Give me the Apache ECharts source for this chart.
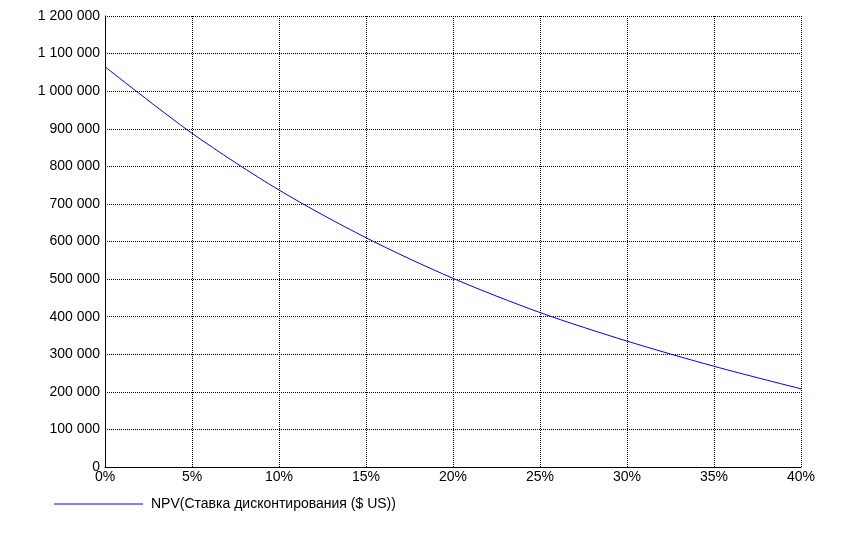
<!DOCTYPE html>
<html><head><meta charset="utf-8">
<script src="https://cdn.jsdelivr.net/npm/echarts@6/dist/echarts.min.js"></script>
<style>html,body{margin:0;padding:0;background:#fff}#c{width:841px;height:535px}</style>
</head><body><div id="c"></div>
<script>
const rates = [0, 5, 10, 15, 20, 25, 30, 35, 40];
const npv = [1065000, 888000, 737000, 610000, 502000, 411000, 335000, 268000, 208000];
const seriesName = 'NPV(Ставка дисконтирования ($ US))';
const yTicks = { min: 0, max: 1200000, interval: 100000 };
const xTicks = { min: 0, max: 40, interval: 5 };

const fmt = v => String(v).replace(/\B(?=(\d{3})+(?!\d))/g, ' ');
const chart = echarts.init(document.getElementById('c'), null, { renderer: 'canvas' });
const font = 'Liberation Sans, Arial, sans-serif';
chart.setOption({
  animation: false,
  backgroundColor: '#fff',
  grid: { left: 105, right: 40, top: 16, bottom: 68, containLabel: false },
  xAxis: {
    type: 'value', min: xTicks.min, max: xTicks.max, interval: xTicks.interval,
    axisLine: { lineStyle: { color: '#000', width: 1 } },
    axisTick: { show: false },
    axisLabel: { color: '#000', fontFamily: font, fontSize: 14, margin: 3, formatter: v => v + '%' },
    splitLine: { show: true, lineStyle: { color: '#000', type: [1, 1], width: 1 } }
  },
  yAxis: {
    type: 'value', min: yTicks.min, max: yTicks.max, interval: yTicks.interval,
    axisLine: { show: true, lineStyle: { color: '#000', width: 1 } },
    axisTick: { show: false },
    axisLabel: { color: '#000', fontFamily: font, fontSize: 14, margin: 5, formatter: v => fmt(v) },
    splitLine: { show: true, lineStyle: { color: '#000', type: [1, 1], width: 1 } }
  },
  legend: {
    show: true, left: 49, top: 492, itemWidth: 89, itemHeight: 1, icon: 'rect',
    textStyle: { color: '#000', fontFamily: font, fontSize: 14, padding: [0, 0, 0, 3] },
    data: [seriesName]
  },
  series: [{
    name: seriesName, type: 'line', smooth: 0.3, showSymbol: false,
    lineStyle: { color: '#0000ff', width: 1 }, itemStyle: { color: '#0000ff' },
    data: rates.map((r, i) => [r, npv[i]])
  }]
});
</script></body></html>
